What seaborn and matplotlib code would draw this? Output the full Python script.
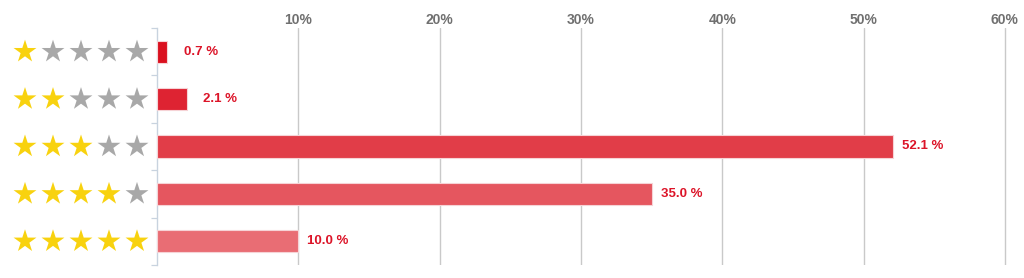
import matplotlib
matplotlib.use("Agg")
import matplotlib.pyplot as plt
import matplotlib.transforms as mtransforms
import seaborn as sns
import numpy as np

# ---- data ----
ratings = ["1 star", "2 stars", "3 stars", "4 stars", "5 stars"]
gold_counts = [1, 2, 3, 4, 5]
shares = [0.7, 2.1, 52.1, 35.0, 10.0]
value_labels = ["0.7 %", "2.1 %", "52.1 %", "35.0 %", "10.0 %"]
x_ticks = [10, 20, 30, 40, 50, 60]
x_tick_labels = ["10%", "20%", "30%", "40%", "50%", "60%"]

bar_colors = ["#DA101E", "#DE2332", "#E13D48", "#E5565F", "#E96D74"]
gold = "#F8D20F"
grey = "#A8A8A8"
label_color = "#DC1428"

sns.set_theme(style="white")
plt.rcParams["font.family"] = ["Liberation Sans", "DejaVu Sans"]

fig = plt.figure(figsize=(10.24, 2.78), dpi=100)
ax = fig.add_axes([157 / 1024, 1 - 265 / 278, 850 / 1024, 237 / 278])

sns.barplot(x=shares, y=ratings, hue=ratings, palette=bar_colors, orient="h",
            width=0.47, edgecolor="#F6D3D6", linewidth=0.8, legend=False,
            saturation=1, ax=ax, zorder=3)

ax.set_xlim(0, 60.15)
ax.set_ylim(4.5, -0.5)

# top x axis
ax.xaxis.tick_top()
ax.set_xticks(x_ticks)
ax.set_xticklabels(x_tick_labels, fontsize=10, fontweight="bold", color="#707070")
ax.tick_params(axis="x", length=0, pad=1)
ax.grid(axis="x", color="#C9C9C9", linewidth=1.0, zorder=0)
ax.set_xlabel("")
ax.set_ylabel("")

# y axis: boundary ticks, no labels
ax.set_yticks(np.arange(-0.5, 5.0, 1.0))
ax.set_yticklabels([])
ax.tick_params(axis="y", left=True, length=4, width=0.9, color="#C8D3DF")

for side in ["top", "right", "bottom"]:
    ax.spines[side].set_visible(False)
ax.spines["left"].set_color("#C8D3DF")
ax.spines["left"].set_linewidth(1.0)

# value labels
for i, (v, lab) in enumerate(zip(shares, value_labels)):
    off = 12 if v < 5 else 6.5
    ax.annotate(lab, xy=(v, i), xytext=(off, 0), textcoords="offset points",
                ha="left", va="center", fontsize=9.5, fontweight="bold",
                color=label_color, annotation_clip=False)

# stars as row labels
trans = mtransforms.blended_transform_factory(ax.transAxes, ax.transData)
star_x = [(px - 157) / 850 for px in (25, 53, 81, 109, 137)]
for i, n in enumerate(gold_counts):
    cols = [gold if k < n else grey for k in range(5)]
    ax.scatter(star_x, [i] * 5, marker="*", s=300, c=cols, transform=trans,
               clip_on=False, linewidths=0, zorder=4)

fig.savefig("out.png", dpi=100)
